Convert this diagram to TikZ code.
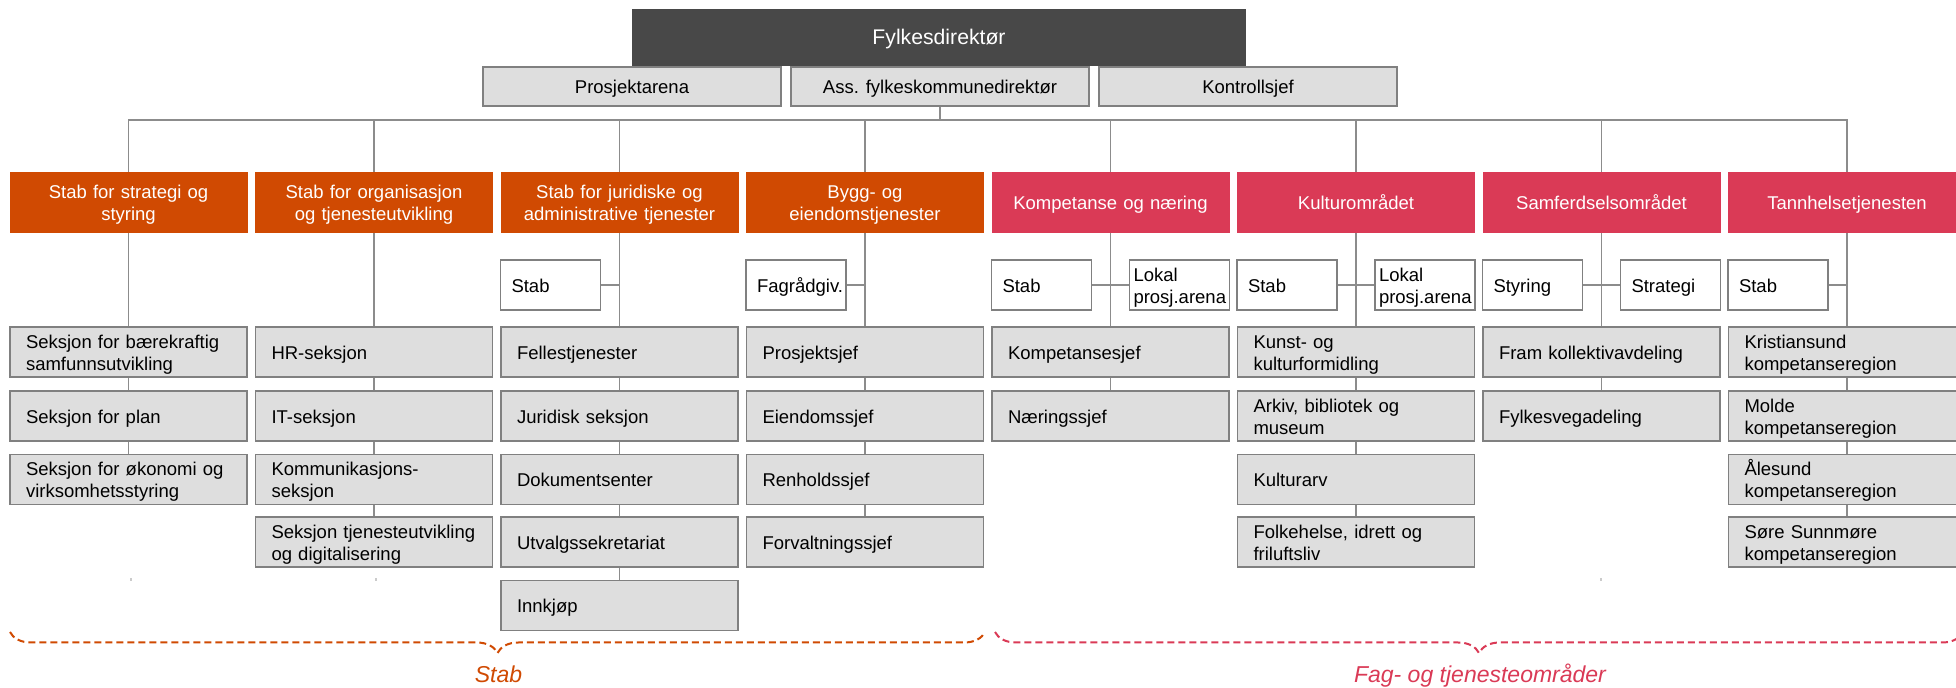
\documentclass[tikz,border=0pt]{standalone}
\usepackage{fontspec}
\setmainfont{Liberation Sans}
\usetikzlibrary{decorations.pathreplacing}
\definecolor{orgC}{HTML}{D04A02}
\definecolor{pinkC}{HTML}{DA3A56}
\definecolor{darkC}{HTML}{484848}
\definecolor{greyF}{HTML}{DEDEDE}
\definecolor{boxL}{HTML}{808080}
\definecolor{connC}{HTML}{8C8C8C}
\newcommand\myfs{\fontsize{9.25}{11}\selectfont}
\newcommand\mytopstrut{\rule{0pt}{9.2pt}}
\newcommand\mybotstrut{\rule[-1.8pt]{0pt}{1.8pt}}
\begin{document}
\begin{tikzpicture}[x=0.5pt,y=-0.5pt,
  conn/.style={draw=connC,line width=0.75pt},
  st/.style={execute at begin node=\mytopstrut,execute at end node=\mybotstrut},
  hdr/.style={st,minimum width=119pt,minimum height=30.5pt,text width=112pt,align=center,inner sep=0pt,text=white,font=\myfs},
  ohdr/.style={hdr,fill=orgC},
  phdr/.style={hdr,fill=pinkC},
  sec/.style={st,draw=boxL,line width=0.85pt,fill=greyF,minimum height=25pt,text width=102.5pt,inner xsep=8pt,inner ysep=0pt,align=left,font=\myfs},
  sm/.style={st,draw=boxL,line width=0.85pt,fill=white,minimum height=25pt,text width=39pt,inner xsep=5.5pt,inner ysep=0pt,align=left,font=\myfs},
  smn/.style={sm,text width=46pt,inner xsep=2pt},
  topb/.style={st,draw=boxL,line width=0.85pt,fill=greyF,minimum width=149pt,minimum height=19.5pt,inner sep=0pt,font=\myfs},
  brc/.style={decorate,decoration={brace,mirror,amplitude=10.5pt},line width=1pt,dash pattern=on 3.5pt off 2pt},
  lbl/.style={font=\itshape\fontsize{11.5}{13}\selectfont,anchor=base,inner sep=0pt},
  tickm/.style={draw=connC!45,line width=0.6pt}
]
\clip (0,0) rectangle (1956,688);

% top
\node[st,fill=darkC,minimum width=307pt,minimum height=28.5pt,inner sep=0pt,text=white,font=\fontsize{10.6}{12.5}\selectfont] (dir) at (939,37.5) {Fylkesdirektør};
\node[topb] (pa) at (632,86.5) {Prosjektarena};
\node[topb] (ass) at (940,86.5) {Ass. fylkeskommunedirektør};
\node[topb] (ks) at (1248,86.5) {Kontrollsjef};

% headers
\node[ohdr] (h1) at (128.5,202.5) {Stab for strategi og\\styring};
\node[ohdr] (h2) at (374,202.5) {Stab for organisasjon\\og tjenesteutvikling};
\node[ohdr] (h3) at (619.5,202.5) {Stab for juridiske og\\administrative tjenester};
\node[ohdr] (h4) at (865,202.5) {Bygg- og\\eiendomstjenester};
\node[phdr] (h5) at (1110.5,202.5) {Kompetanse og næring};
\node[phdr] (h6) at (1356,202.5) {Kulturområdet};
\node[phdr] (h7) at (1601.5,202.5) {Samferdselsområdet};
\node[phdr] (h8) at (1847,202.5) {Tannhelsetjenesten};

% small boxes
\node[sm] (s3) at (550.5,285) {Stab};
\node[sm] (s4) at (796,285) {\rlap{Fagrådgiv.}};
\node[sm] (s5a) at (1041.5,285) {Stab};
\node[smn] (s5b) at (1179.5,285) {Lokal\\prosj.arena};
\node[sm] (s6a) at (1287,285) {Stab};
\node[smn] (s6b) at (1425,285) {Lokal\\prosj.arena};
\node[sm] (s7a) at (1532.5,285) {Styring};
\node[sm] (s7b) at (1670.5,285) {Strategi};
\node[sm] (s8) at (1778,285) {Stab};

% column 1
\node[sec] (a1) at (128.5,352) {Seksjon for bærekraftig\\samfunnsutvikling};
\node[sec] (a2) at (128.5,416) {Seksjon for plan};
\node[sec] (a3) at (128.5,479.5) {Seksjon for økonomi og\\virksomhetsstyring};
% column 2
\node[sec] (b1) at (374,352) {HR-seksjon};
\node[sec] (b2) at (374,416) {IT-seksjon};
\node[sec] (b3) at (374,479.5) {Kommunikasjons-\\seksjon};
\node[sec] (b4) at (374,542) {Seksjon tjenesteutvikling\\og digitalisering};
% column 3
\node[sec] (c1) at (619.5,352) {Fellestjenester};
\node[sec] (c2) at (619.5,416) {Juridisk seksjon};
\node[sec] (c3) at (619.5,479.5) {Dokumentsenter};
\node[sec] (c4) at (619.5,542) {Utvalgssekretariat};
\node[sec] (c5) at (619.5,605.5) {Innkjøp};
% column 4
\node[sec] (d1) at (865,352) {Prosjektsjef};
\node[sec] (d2) at (865,416) {Eiendomssjef};
\node[sec] (d3) at (865,479.5) {Renholdssjef};
\node[sec] (d4) at (865,542) {Forvaltningssjef};
% column 5
\node[sec] (e1) at (1110.5,352) {Kompetansesjef};
\node[sec] (e2) at (1110.5,416) {Næringssjef};
% column 6
\node[sec] (f1) at (1356,352) {Kunst- og\\kulturformidling};
\node[sec] (f2) at (1356,416) {Arkiv, bibliotek og\\museum};
\node[sec] (f3) at (1356,479.5) {Kulturarv};
\node[sec] (f4) at (1356,542) {Folkehelse, idrett og\\friluftsliv};
% column 7
\node[sec] (g1) at (1601.5,352) {Fram kollektivavdeling};
\node[sec] (g2) at (1601.5,416) {Fylkesvegadeling};
% column 8
\node[sec] (k1) at (1847,352) {Kristiansund\\kompetanseregion};
\node[sec] (k2) at (1847,416) {Molde\\kompetanseregion};
\node[sec] (k3) at (1847,479.5) {Ålesund\\kompetanseregion};
\node[sec] (k4) at (1847,542) {Søre Sunnmøre\\kompetanseregion};

% bus
\coordinate (bus) at (0,120);
\draw[conn] (ass.south) -- (ass.south |- bus);
\draw[conn] (h1.north) -- (h1.north |- bus) -- (h8.north |- bus) -- (h8.north);
\foreach \h in {h2,h3,h4,h5,h6,h7} \draw[conn] (\h.north) -- (\h.north |- bus);

% columns
\draw[conn] (h1.south) -- (a1.north) (a1.south) -- (a2.north) (a2.south) -- (a3.north);
\draw[conn] (h2.south) -- (b1.north) (b1.south) -- (b2.north) (b2.south) -- (b3.north) (b3.south) -- (b4.north);
\draw[conn] (h3.south) -- (c1.north) (c1.south) -- (c2.north) (c2.south) -- (c3.north) (c3.south) -- (c4.north) (c4.south) -- (c5.north);
\draw[conn] (s3.east) -- (s3.east -| h3.south);
\draw[conn] (h4.south) -- (d1.north) (d1.south) -- (d2.north) (d2.south) -- (d3.north) (d3.south) -- (d4.north);
\draw[conn] (s4.east) -- (s4.east -| h4.south);
\draw[conn] (h5.south) -- (e1.north) (e1.south) -- (e2.north);
\draw[conn] (s5a.east) -- (s5b.west);
\draw[conn] (h6.south) -- (f1.north) (f1.south) -- (f2.north) (f2.south) -- (f3.north) (f3.south) -- (f4.north);
\draw[conn] (s6a.east) -- (s6b.west);
\draw[conn] (h7.south) -- (g1.north) (g1.south) -- (g2.north);
\draw[conn] (s7a.east) -- (s7b.west);
\draw[conn] (h8.south) -- (k1.north) (k1.south) -- (k2.north) (k2.south) -- (k3.north) (k3.south) -- (k4.north);
\draw[conn] (s8.east) -- (s8.east -| h8.south);

% tiny remnant ticks
\draw[tickm] (131,578.5) -- (131,581.5);
\draw[tickm] (376,578.5) -- (376,581.5);
\draw[tickm] (1601,578.5) -- (1601,581.5);

% braces
\coordinate (bs1) at (10,632);
\coordinate (be1) at (985,632);
\coordinate (bs2) at (995,632);
\coordinate (be2) at (1963,632);
\draw[brc,draw=orgC] (bs1) -- (be1);
\draw[brc,draw=pinkC] (bs2) -- (be2);
\node[lbl,text=orgC] (lstab) at (498.5,683) {Stab};
\node[lbl,text=pinkC] (lfag) at (1480,683) {Fag- og tjenesteområder};
\end{tikzpicture}
\end{document}
